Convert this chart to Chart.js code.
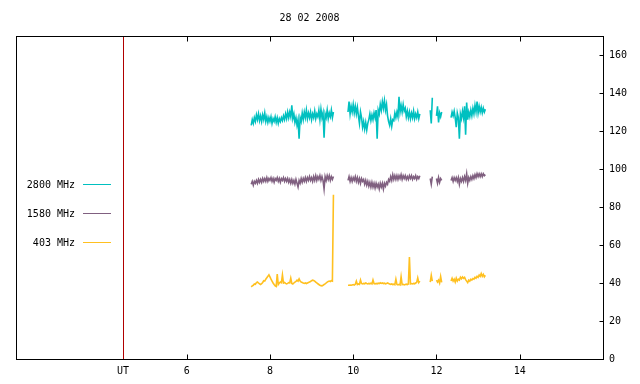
<!DOCTYPE html>
<html>
<head>
<meta charset="utf-8">
<title>28 02 2008</title>
<script src="https://cdn.jsdelivr.net/npm/chart.js@4.4.1/dist/chart.umd.min.js"></script>
<style>
    body { margin: 0; background: #fff; }
    #chart { display: block; }
</style>
</head>
<body>
<canvas id="chart" width="640" height="384"></canvas>
<script>
// Sampling times (UT hours); null values below mark the data gaps
const utHours = [
    7.550, 7.575, 7.600, 7.625, 7.650, 7.675, 7.700, 7.725, 7.750, 7.775,
    7.800, 7.825, 7.850, 7.875, 7.900, 7.925, 7.950, 7.975, 8.000, 8.025,
    8.050, 8.075, 8.100, 8.125, 8.150, 8.175, 8.200, 8.225, 8.250, 8.275,
    8.300, 8.325, 8.350, 8.375, 8.400, 8.425, 8.450, 8.475, 8.500, 8.525,
    8.550, 8.575, 8.600, 8.625, 8.650, 8.675, 8.700, 8.725, 8.750, 8.775,
    8.800, 8.825, 8.850, 8.875, 8.900, 8.925, 8.950, 8.975, 9.000, 9.025,
    9.050, 9.075, 9.100, 9.125, 9.150, 9.175, 9.200, 9.225, 9.250, 9.275,
    9.300, 9.325, 9.350, 9.375, 9.400, 9.425, 9.450, 9.475, 9.500, 9.525,
    9.700,
    9.875, 9.900, 9.925, 9.950, 9.975, 10.000, 10.025, 10.050, 10.075, 10.100,
    10.125, 10.150, 10.175, 10.200, 10.225, 10.250, 10.275, 10.300, 10.325, 10.350,
    10.375, 10.400, 10.425, 10.450, 10.475, 10.500, 10.525, 10.550, 10.575, 10.600,
    10.625, 10.650, 10.675, 10.700, 10.725, 10.750, 10.775, 10.800, 10.825, 10.850,
    10.875, 10.900, 10.925, 10.950, 10.975, 11.000, 11.025, 11.050, 11.075, 11.100,
    11.125, 11.150, 11.175, 11.200, 11.225, 11.250, 11.275, 11.300, 11.325, 11.350,
    11.375, 11.400, 11.425, 11.450, 11.475, 11.500, 11.525, 11.550, 11.575, 11.600,
    11.725,
    11.850, 11.875, 11.900,
    11.950,
    12.000, 12.025, 12.050, 12.075, 12.100, 12.125,
    12.250,
    12.350, 12.375, 12.400, 12.425, 12.450, 12.475, 12.500, 12.525, 12.550, 12.575,
    12.600, 12.625, 12.650, 12.675, 12.700, 12.725, 12.750, 12.775, 12.800, 12.825,
    12.850, 12.875, 12.900, 12.925, 12.950, 12.975, 13.000, 13.025, 13.050, 13.075,
    13.100, 13.125, 13.150, 13.175
];

const flux2800 = [
    123, 126, 124, 127, 125, 128.5, 126, 129, 125.5, 128,
    125, 128.5, 126, 129.5, 125, 127.5, 124.5, 127, 125, 127.5,
    124, 126.5, 125, 127.5, 124.5, 127, 124, 126.5, 125, 127,
    125.5, 128, 126, 129, 126.5, 130, 127, 130, 127.5, 133.5,
    126.5, 129, 124.5, 127, 123, 126, 116, 127, 125, 129.5,
    126, 130, 127, 131, 126.5, 129.5, 127, 130, 126, 129,
    127, 130.5, 126.5, 129, 127.5, 131, 126, 131.5, 127, 129.5,
    116.5, 129, 127, 131, 126.5, 129.5, 127.5, 131, 127, 130,
    null,
    130, 135.5, 129, 133, 130, 134, 129.5, 133, 129, 132.5,
    128, 124, 130, 127, 122, 125, 121, 124.5, 120.5, 124,
    126, 129, 125.5, 128.5, 126, 129.5, 127, 131, 116, 131,
    129, 134, 131, 135.5, 132, 136, 131, 134, 128, 125,
    123, 126.5, 122.5, 126, 125.5, 129.5, 127, 130, 127.5, 138,
    130, 133.5, 130, 134, 130.5, 132, 127.5, 130.5, 127, 130,
    126.5, 129.5, 127, 130.5, 126.5, 129, 127, 130, 126.5, 129,
    null,
    131, 124, 137.5,
    null,
    128, 133, 124.5, 129.5, 127.5, 130,
    null,
    127, 130, 128, 130.5, 127, 122, 129.5, 127, 116, 129,
    126.5, 130.5, 127, 133, 118, 135, 126, 130, 127.5, 131,
    128, 132, 129, 133.5, 130, 135.5, 129.5, 133, 130, 132.5,
    129.5, 132, 130, 131.5
];

const flux1580 = [
    92, 93.5, 91.5, 93.5, 92.5, 94, 92.5, 94.5, 93, 94.5,
    93, 95, 93.5, 95, 93.5, 95.5, 93.5, 95, 94, 95.5,
    93.5, 95, 93, 95, 94, 95.5, 93.5, 95, 93, 95,
    94, 95.5, 93.5, 95, 93.5, 95, 93, 94.5, 92.5, 94.5,
    92.5, 94, 92, 94.5, 92.5, 90.5, 94, 92.5, 95, 93,
    95, 93.5, 95.5, 93.5, 95.5, 94, 96, 94, 95.5, 93.5,
    96, 94, 96.5, 94, 96, 94.5, 96.5, 94, 96, 94,
    89.5, 96, 94, 96.5, 94.5, 96.5, 94, 96, 94.5, 96,
    null,
    94, 96, 93.5, 95.5, 93.5, 95.5, 94, 96, 93.5, 95.5,
    93, 95, 92.5, 95, 93.5, 94.5, 92, 94, 91.5, 93.5,
    91, 93, 90.5, 93, 90.5, 92.5, 90, 92.5, 90.5, 92,
    89.5, 92.5, 90.5, 92.5, 89.5, 92.5, 91, 93, 92, 94.5,
    93.5, 96, 94, 97, 94.5, 96.5, 94.5, 96.5, 94.5, 96.5,
    95, 97, 94.5, 96.5, 95, 96.5, 94.5, 96, 94.5, 96.5,
    95, 96.5, 94.5, 96, 95, 96.5, 94.5, 96, 95, 96.5,
    null,
    95, 92, 96,
    null,
    95, 92.5, 95.5, 93, 95, 94,
    null,
    94, 95.5, 93.5, 95.5, 94, 95.5, 93.5, 95.5, 92, 95,
    93.5, 95.5, 93.5, 96, 94, 97.5, 92.5, 95.5, 94, 96,
    94.5, 96.5, 95, 97, 95.5, 97.5, 96, 97.5, 96, 97.5,
    96, 97.5, 96.5, 97
];

const flux403 = [
    38, 38.5, 38.8, 39.5, 39.3, 40.2, 40.5, 40, 39.5, 39.2,
    39.6, 40.3, 41.2, 41, 42, 42.8, 43.5, 44.3, 43.2, 42,
    41, 40, 39.2, 38.5, 38.2, 44.7, 39.2, 40, 40.5, 40.2,
    44.3, 40, 40.3, 39.8, 39.5, 39.8, 40.2, 40, 42.5, 39.8,
    39.5, 40, 40.5, 40.8, 41.5, 41, 42.2, 41, 40.5, 40.3,
    40, 39.8, 40, 39.7, 40, 40.3, 40.5, 40.8, 41.2, 41.5,
    41.3, 41, 40.5, 40, 39.6, 39.2, 38.8, 38.6, 38.5, 38.8,
    39.2, 39.5, 40, 40.5, 40.8, 41, 40.8, 41.2, 41, 86.5,
    null,
    38.8, 38.8, 38.9, 38.8, 39, 39.2, 38.9, 39.3, 41, 39.2,
    39.5, 39.3, 41.6, 39.8, 39.5, 39.8, 39.6, 40, 39.7, 39.5,
    39.8, 39.6, 39.9, 39.5, 41.6, 39.7, 39.5, 39.8, 39.6, 39.9,
    39.7, 40.1, 39.8, 40, 39.7, 39.9, 39.6, 39.8, 40, 39.7,
    39.5, 39.3, 39.5, 39.2, 39.4, 39.1, 42, 39.2, 39, 39.3,
    39, 43.3, 39.1, 39.3, 39, 39.2, 39.4, 39.2, 39.5, 53.7,
    39.5, 39.7, 39.5, 39.8, 39.6, 40, 40.3, 42.7, 40.2, 41,
    null,
    40.5, 44, 41,
    null,
    41.5, 40.5, 41.5, 40, 43.4, 40.3,
    null,
    41, 42.5, 41, 42, 40.5, 42.5, 41, 42, 41.5, 43,
    42.2, 43.2, 42.5, 43, 41.8, 41, 40.2, 41.5, 41, 42,
    41.5, 42.3, 42, 43, 42.5, 43.5, 43, 44.2, 43.5, 45,
    43.5, 44.5, 43.2, 44
];

const seriesLabels = ['2800 MHz', '1580 MHz', '403 MHz'];
const seriesColors = ['#00c0c0', '#806080', '#ffc020'];
const xTicks = [6, 8, 10, 12, 14];
const yTicks = [0, 20, 40, 60, 80, 100, 120, 140, 160];
const utMark = 4.47;
const chartTitle = '28 02 2008';

const FONT = '"DejaVu Sans Mono", "Liberation Mono", monospace';

function toPoints(values) {
    return utHours.map((t, i) => ({ x: t, y: values[i] }));
}

// Frame, inward ticks, title and legend (gnuplot look)
const gnuplotFrame = {
    id: 'gnuplotFrame',
    afterDraw(chart) {
        const ctx = chart.ctx;
        const a = chart.chartArea;
        const x = chart.scales.x;
        const y = chart.scales.y;
        const left = Math.round(a.left) + 0.5;
        const right = Math.round(a.right) + 0.5;
        const top = Math.round(a.top) + 0.5;
        const bottom = Math.round(a.bottom) + 0.5;

        ctx.save();
        ctx.lineWidth = 1;

        ctx.strokeStyle = '#000';
        ctx.strokeRect(left, top, right - left, bottom - top);

        ctx.beginPath();
        xTicks.forEach(v => {
            const px = Math.round(x.getPixelForValue(v)) + 0.5;
            ctx.moveTo(px, bottom);
            ctx.lineTo(px, bottom - 5);
            ctx.moveTo(px, top);
            ctx.lineTo(px, top + 5);
        });
        yTicks.forEach(v => {
            const py = Math.round(y.getPixelForValue(v)) + 0.5;
            ctx.moveTo(right, py);
            ctx.lineTo(right - 4, py);
        });
        ctx.stroke();

        // UT marker, red
        const ux = Math.round(x.getPixelForValue(utMark));
        ctx.fillStyle = 'rgb(176, 0, 0)';
        ctx.fillRect(ux, Math.round(a.top) + 1, 1, Math.round(a.bottom - a.top) - 1);

        ctx.fillStyle = '#000';
        ctx.font = '10px ' + FONT;
        ctx.textAlign = 'center';
        ctx.textBaseline = 'middle';
        ctx.fillText(chartTitle, (a.left + a.right) / 2, 18);

        // Legend inside the plot, left side
        ctx.textAlign = 'right';
        chart.data.datasets.forEach((ds, i) => {
            const ly = 184.5 + i * 29;
            ctx.fillStyle = '#000';
            ctx.fillText(ds.label, 75, ly + 1);
            ctx.strokeStyle = ds.borderColor;
            ctx.beginPath();
            ctx.moveTo(83, ly);
            ctx.lineTo(111, ly);
            ctx.stroke();
        });
        ctx.restore();
    }
};

const datasets = [flux2800, flux1580, flux403].map((values, i) => ({
    label: seriesLabels[i],
    data: toPoints(values),
    borderColor: seriesColors[i],
    backgroundColor: seriesColors[i],
    borderWidth: 1.6,
    pointRadius: 0,
    tension: 0,
    spanGaps: false
}));

new Chart(document.getElementById('chart'), {
    type: 'line',
    data: { datasets: datasets },
    options: {
        responsive: false,
        devicePixelRatio: 1,
        animation: false,
        layout: { padding: { left: 16, top: 36, right: 0, bottom: 0 } },
        plugins: {
            legend: { display: false },
            tooltip: { enabled: false },
            title: { display: false }
        },
        scales: {
            x: {
                type: 'linear',
                min: 1.9,
                max: 16,
                grid: { display: false, drawTicks: false },
                border: { display: false },
                afterBuildTicks: scale => {
                    scale.ticks = [utMark].concat(xTicks).map(v => ({ value: v }));
                },
                afterFit: scale => { scale.height = 25; },
                ticks: {
                    autoSkip: false,
                    maxRotation: 0,
                    padding: 6,
                    color: '#000',
                    font: { family: FONT, size: 10 },
                    callback: value => value === utMark ? 'UT' : value
                }
            },
            y: {
                position: 'right',
                min: 0,
                max: 170,
                grid: { display: false, drawTicks: false },
                border: { display: false },
                afterBuildTicks: scale => {
                    scale.ticks = yTicks.map(v => ({ value: v }));
                },
                afterFit: scale => { scale.width = 37; },
                ticks: {
                    padding: 6,
                    color: '#000',
                    font: { family: FONT, size: 10 }
                }
            }
        }
    },
    plugins: [gnuplotFrame]
});
</script>
</body>
</html>
